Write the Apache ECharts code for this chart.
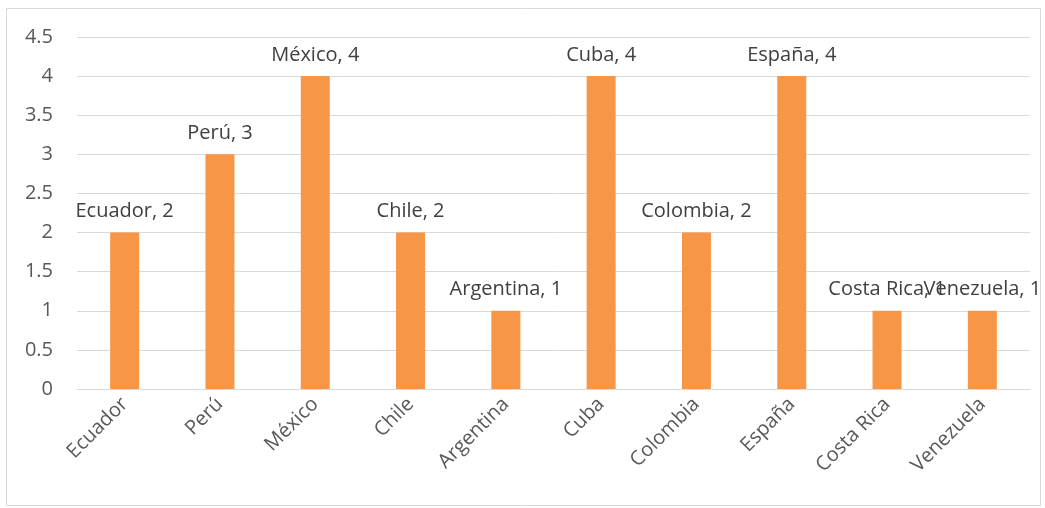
<!DOCTYPE html>
<html><head><meta charset="utf-8">
<script src="https://cdn.jsdelivr.net/npm/echarts@6/dist/echarts.min.js"></script>
<style>html,body{margin:0;padding:0;background:#fff}#c{width:1045px;height:508px}</style>
</head><body><div id="c"></div>
<script>
var categories = ['Ecuador','Perú','México','Chile','Argentina','Cuba','Colombia','España','Costa Rica','Venezuela'];
var values = [2,3,4,2,1,4,2,4,1,1];
var yTicks = {min:0, max:4.5, interval:0.5};
var FONT = 'Open Sans';
var chart = echarts.init(document.getElementById('c'));
chart.setOption({
  animation:false,
  graphic:[{type:'rect',shape:{x:6.5,y:8.5,width:1034,height:497},style:{fill:'none',stroke:'#d9d9d9',lineWidth:1},silent:true}],
  grid:{left:77,right:15,top:37,bottom:119},
  xAxis:{type:'category',data:categories,
    axisLine:{lineStyle:{color:'#d9d9d9',width:1}},axisTick:{show:false},
    axisLabel:{rotate:45,color:'#595959',fontFamily:FONT,fontSize:20,margin:12}},
  yAxis:{type:'value',min:yTicks.min,max:yTicks.max,interval:yTicks.interval,
    axisLine:{show:false},axisTick:{show:false},
    splitLine:{lineStyle:{color:'#d9d9d9',width:1}},
    axisLabel:{color:'#595959',fontFamily:FONT,fontSize:20,margin:24}},
  series:[{type:'bar',data:values,barWidth:29,itemStyle:{color:'#f79646'},
    label:{show:true,position:'top',distance:11,color:'#404040',fontFamily:FONT,fontSize:20,
      formatter:function(p){return p.name+', '+p.value;}}}]
});
</script></body></html>
